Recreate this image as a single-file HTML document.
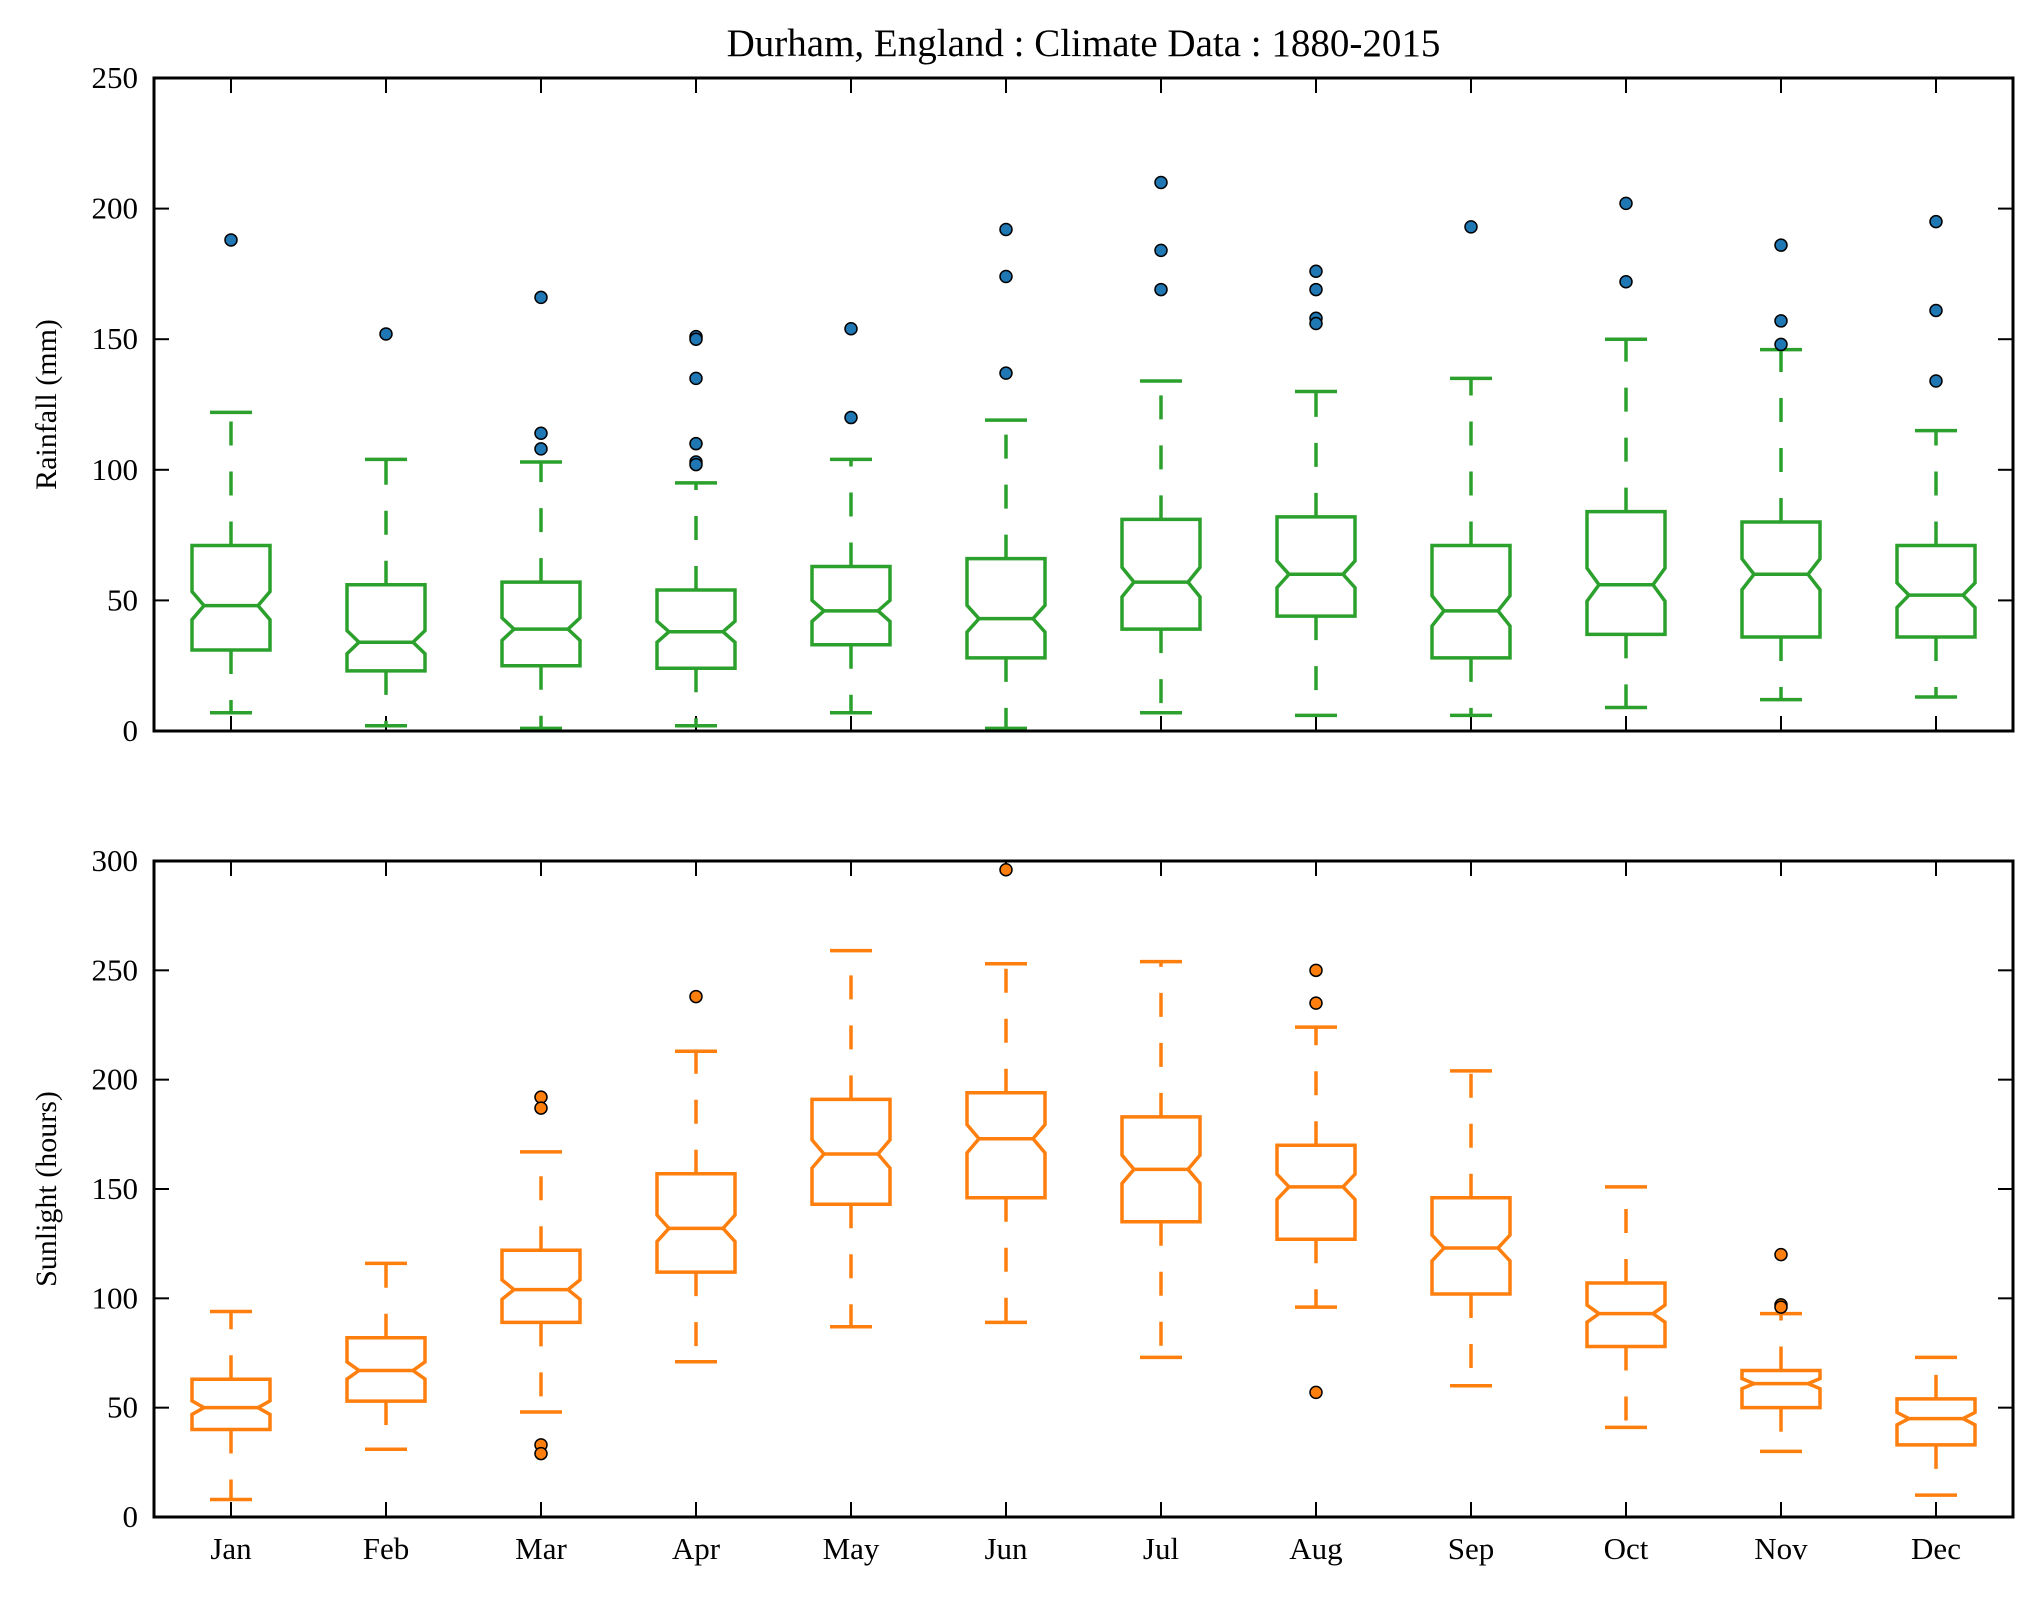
<!DOCTYPE html>
<html><head><meta charset="utf-8"><style>
html,body{margin:0;padding:0;background:#fff;}
svg text{font-family:"Liberation Serif","DejaVu Serif",serif;fill:#000;}
</style></head><body>
<svg id="chart" width="2043" height="1594" viewBox="0 0 2043 1594" xmlns="http://www.w3.org/2000/svg"></svg>
<script>
const months = ["Jan","Feb","Mar","Apr","May","Jun","Jul","Aug","Sep","Oct","Nov","Dec"];
// Rainfall (mm)
const rainLow  = [7, 2, 1, 2, 7, 1, 7, 6, 6, 9, 12, 13];
const rainQ1   = [31, 23, 25, 24, 33, 28, 39, 44, 28, 37, 36, 36];
const rainMed  = [48, 34, 39, 38, 46, 43, 57, 60, 46, 56, 60, 52];
const rainQ3   = [71, 56, 57, 54, 63, 66, 81, 82, 71, 84, 80, 71];
const rainHigh = [122, 104, 103, 95, 104, 119, 134, 130, 135, 150, 146, 115];
const rainOut  = [[188],[152],[166,114,108],[151,150,135,110,103,102],[154,120],[192,174,137],[210,184,169],[176,169,158,156],[193],[202,172],[186,157,148],[195,161,134]];
const rainTicks = [0,50,100,150,200,250];
// Sunlight (hours)
const sunLow  = [8, 31, 48, 71, 87, 89, 73, 96, 60, 41, 30, 10];
const sunQ1   = [40, 53, 89, 112, 143, 146, 135, 127, 102, 78, 50, 33];
const sunMed  = [50, 67, 104, 132, 166, 173, 159, 151, 123, 93, 61, 45];
const sunQ3   = [63, 82, 122, 157, 191, 194, 183, 170, 146, 107, 67, 54];
const sunHigh = [94, 116, 167, 213, 259, 253, 254, 224, 204, 151, 93, 73];
const sunOut  = [[],[],[192,187,33,29],[238],[],[296],[],[250,235,57],[],[],[120,97,96],[]];
const sunTicks = [0,50,100,150,200,250,300];

const NS="http://www.w3.org/2000/svg";
const svg=document.getElementById('chart');
function el(tag,attrs,parent){const e=document.createElementNS(NS,tag);for(const k in attrs)e.setAttribute(k,attrs[k]);(parent||svg).appendChild(e);return e;}

const L=154,R=2013;
const xOf=i=>231+i*155;

function panel(name,top,bottom,ymax,ticks,low,q1,med,q3,high,outs,color,fill,ylabel,showX){
  const g=el('g',{});
  
  
  const y=v=>bottom-(v/ymax)*(bottom-top);
  ticks.forEach(t=>{
    const ty=y(t);
    const tl=el('line',{x1:L,x2:L+15,y1:ty,y2:ty,stroke:'#000','stroke-width':2},g);
    
    
    el('line',{x1:R-15,x2:R,y1:ty,y2:ty,stroke:'#000','stroke-width':2},g);
    const tx=el('text',{x:L-16,y:ty+10,'text-anchor':'end','font-size':31},g);
    tx.textContent=t;
    
    
  });
  months.forEach((m,i)=>{
    const cx=xOf(i);
    el('line',{x1:cx,x2:cx,y1:bottom,y2:bottom-15,stroke:'#000','stroke-width':2},g);
    el('line',{x1:cx,x2:cx,y1:top,y2:top+15,stroke:'#000','stroke-width':2},g);
    if(showX){
      const tx=el('text',{x:cx,y:bottom+42,'text-anchor':'middle','font-size':31},g);
      tx.textContent=m;
      
      
    }
    const bg=el('g',{},g);
    
    
    const hw=39, nw=12;
    const iqr=q3[i]-q1[i];
    const nh=1.57*iqr/Math.sqrt(136);
    const yq1=y(q1[i]),yq3=y(q3[i]),ym=y(med[i]),ylo=y(med[i]-nh),yhi=y(med[i]+nh);
    const pts=[[cx-hw,yq1],[cx-hw,ylo],[cx-hw+nw,ym],[cx-hw,yhi],[cx-hw,yq3],[cx+hw,yq3],[cx+hw,yhi],[cx+hw-nw,ym],[cx+hw,ylo],[cx+hw,yq1]];
    el('polygon',{points:pts.map(p=>p.join(',')).join(' '),fill:'none',stroke:color,'stroke-width':3.5},bg);
    el('line',{x1:cx-hw+nw,x2:cx+hw-nw,y1:ym,y2:ym,stroke:color,'stroke-width':3.5},bg);
    el('line',{x1:cx,x2:cx,y1:yq1,y2:y(low[i]),stroke:color,'stroke-width':3.5,'stroke-dasharray':'24 26'},bg);
    el('line',{x1:cx,x2:cx,y1:yq3,y2:y(high[i]),stroke:color,'stroke-width':3.5,'stroke-dasharray':'24 26'},bg);
    el('line',{x1:cx-21,x2:cx+21,y1:y(low[i]),y2:y(low[i]),stroke:color,'stroke-width':3.5},bg);
    el('line',{x1:cx-21,x2:cx+21,y1:y(high[i]),y2:y(high[i]),stroke:color,'stroke-width':3.5},bg);
    outs[i].forEach(v=>{
      const c=el('circle',{cx:cx,cy:y(v),r:6,fill:fill,stroke:'#000','stroke-width':1.5},bg);
      
      
    });
  });
  const fr=el('rect',{x:L,y:top,width:R-L,height:bottom-top,fill:'none',stroke:'#000','stroke-width':3},g);
  
  
  const yl=el('text',{x:0,y:0,'text-anchor':'middle','font-size':30,transform:`translate(56,${(top+bottom)/2}) rotate(-90)`},g);
  yl.textContent=ylabel;
  
  
}
const title=el('text',{x:(L+R)/2,y:56,'text-anchor':'middle','font-size':39});
title.textContent='Durham, England : Climate Data : 1880-2015';


panel('rainfall-panel',78,731,250,rainTicks,rainLow,rainQ1,rainMed,rainQ3,rainHigh,rainOut,'#2ca02c','#1f77b4','Rainfall (mm)',false);
panel('sunlight-panel',861,1517,300,sunTicks,sunLow,sunQ1,sunMed,sunQ3,sunHigh,sunOut,'#ff7f0e','#ff7f0e','Sunlight (hours)',true);
</script>
</body></html>
